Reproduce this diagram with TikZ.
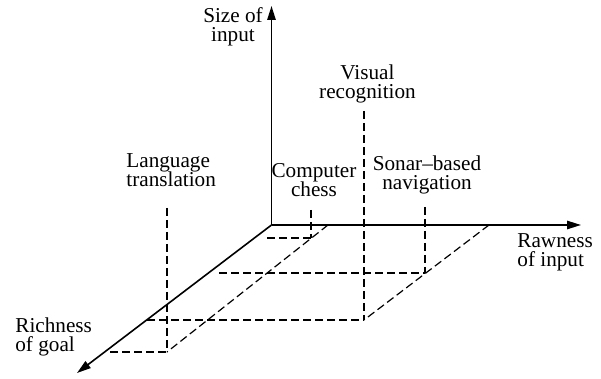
\documentclass[tikz,border=0pt]{standalone}
\usepackage{fontspec}
\setmainfont{Liberation Serif}
\usetikzlibrary{arrows.meta}
\begin{document}
\begin{tikzpicture}[x=0.5pt,y=-0.5pt,
  axis/.style={line width=0.8pt,-{Triangle[length=7pt,width=4.2pt]}},
  proj/.style={line width=0.6pt,dash pattern=on 4pt off 2pt},
  lbl/.style={inner sep=0pt,font=\fontsize{10.6}{9.8}\selectfont}]
\useasboundingbox (0,0) rectangle (601,379);
% axes
\coordinate (O) at (271.5,225);
\coordinate (Ytip) at (271.5,6);
\coordinate (Xtip) at (581,225);
\coordinate (Ztip) at (77,373);
\draw[axis] (O) -- (Ytip);
\draw[axis] (O) -- (Xtip);
\draw[axis] (O) -- (Ztip);
% points on rawness axis
\coordinate (A1) at (328,225);
\coordinate (A2) at (489,225);
% floor points
\coordinate (Lf) at (167,352);
\coordinate (Cf) at (311,238);
\coordinate (Vf) at (364,320);
\coordinate (Sf) at (425,273);
% tops
\coordinate (Lt) at (167,208);
\coordinate (Ct) at (311,210);
\coordinate (Vt) at (364,111);
\coordinate (St) at (425,207);
% starts near richness axis
\coordinate (Lh) at (110,352);
\coordinate (Ch) at (267,238);
\coordinate (Vh) at (147,320);
\coordinate (Sh) at (219,273);
% projections
\draw[proj] (A1) -- (Lf);
\draw[proj] (A2) -- (Vf);
\draw[proj] (Lt) -- (Lf);
\draw[proj] (Ct) -- (Cf);
\draw[proj] (Vt) -- (Vf);
\draw[proj] (St) -- (Sf);
\draw[proj] (Lh) -- (Lf);
\draw[proj] (Ch) -- (Cf);
\draw[proj] (Vh) -- (Vf);
\draw[proj] (Sh) -- (Sf);
% labels (anchor base = baseline of the last line)
\node[lbl,align=center,anchor=base] (size) at (233,42) {Size of\\input};
\node[lbl,align=center,anchor=base] (visual) at (367.5,99) {Visual\hspace{9pt}\\recognition};
\node[lbl,align=left,anchor=base west] (lang) at (126,187) {Language\\translation};
\node[lbl,align=center,anchor=base] (chess) at (314,197) {Computer\\chess};
\node[lbl,align=center,anchor=base] (sonar) at (427,190) {Sonar–based\\navigation};
\node[lbl,align=left,anchor=base west] (raw) at (517,267) {Rawness\\of input};
\node[lbl,align=left,anchor=base west] (rich) at (15,352) {Richness\\of goal};
\end{tikzpicture}
\end{document}
